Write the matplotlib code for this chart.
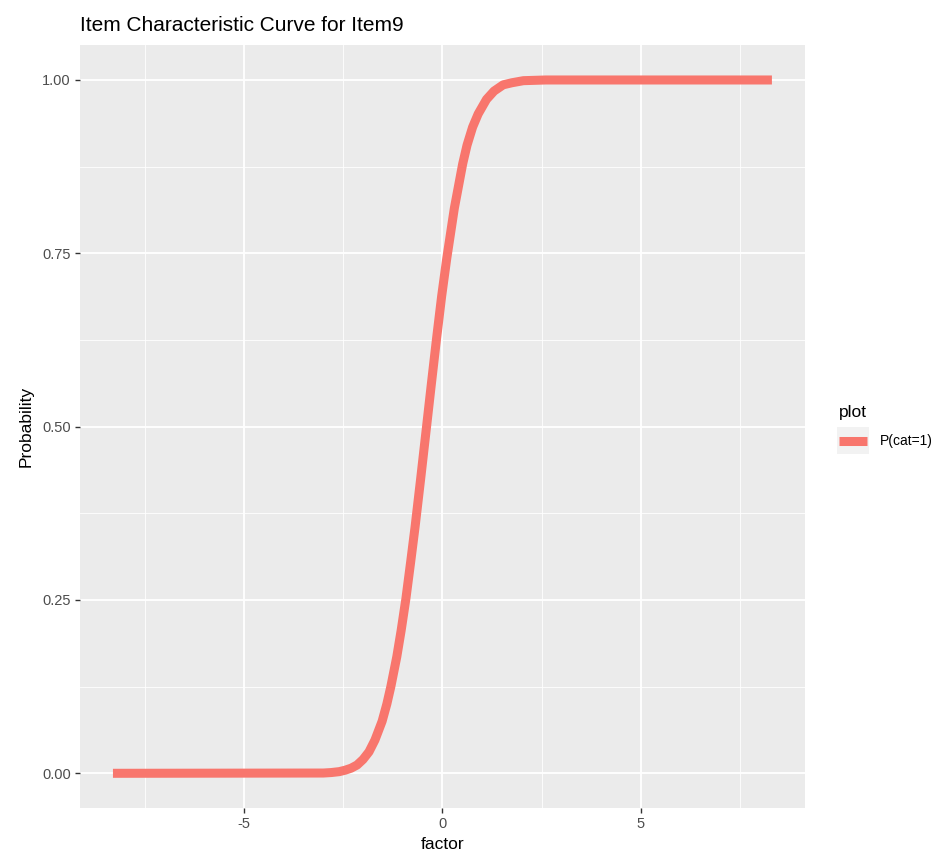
import matplotlib.pyplot as plt
from matplotlib.patches import Rectangle

# points
factor = [-8.3, -3.0, -2.8, -2.6, -2.45, -2.3, -2.15, -2.0, -1.85, -1.7, -1.52,
          -1.4, -1.3, -1.15, -1.04, -0.92, -0.8, -0.69, -0.55, -0.40, -0.28,
          -0.15, -0.02, 0.11, 0.30, 0.51, 0.62, 0.76, 0.9, 1.11, 1.3, 1.53,
          1.75, 2.04, 2.6, 8.3]
prob = [0.0, 0.0004, 0.0011, 0.0024, 0.0045, 0.0074, 0.012, 0.020, 0.031, 0.048,
        0.075, 0.100, 0.125, 0.168, 0.206, 0.252, 0.305, 0.355, 0.424, 0.5,
        0.561, 0.626, 0.688, 0.743, 0.815, 0.879, 0.906, 0.932, 0.951, 0.972,
        0.984, 0.993, 0.996, 0.999, 1.0, 1.0]
series_name = "P(cat=1)"
x_ticks = [-5, 0, 5]
y_ticks = [0.0, 0.25, 0.5, 0.75, 1.0]
y_ticklabels = ["0.00", "0.25", "0.50", "0.75", "1.00"]

plt.rcParams['font.family'] = ['Liberation Sans', 'DejaVu Sans']

fig = plt.figure(figsize=(9.48, 8.55), dpi=100)
ax = fig.add_axes([0.0844, 0.055, 0.849 - 0.0844, 0.947 - 0.055])
ax.set_facecolor('#EBEBEB')
for s in ax.spines.values():
    s.set_visible(False)

ax.plot(factor, prob, color='#F8766D', lw=6.5, solid_capstyle='butt',
        solid_joinstyle='round', label=series_name, zorder=3)

xr = max(factor) - min(factor)
ax.set_xlim(min(factor) - 0.05 * xr, max(factor) + 0.05 * xr)
ax.set_ylim(-0.05, 1.05)

ax.set_xticks(x_ticks)
ax.set_xticklabels([str(t) for t in x_ticks])
ax.set_yticks(y_ticks)
ax.set_yticklabels(y_ticklabels)
ax.set_xticks([-7.5, -2.5, 2.5, 7.5], minor=True)
ax.set_yticks([0.125, 0.375, 0.625, 0.875], minor=True)
ax.grid(which='major', color='white', lw=1.3, zorder=0)
ax.grid(which='minor', color='white', lw=0.6, zorder=0)
ax.set_axisbelow(True)
ax.tick_params(which='major', length=3.5, width=1, color='#333333',
               labelcolor='#4D4D4D', labelsize=10.5, pad=3)
ax.tick_params(which='minor', length=0)

ax.set_xlabel('factor', fontsize=12.5, color='black', labelpad=4)
ax.set_ylabel('Probability', fontsize=12.5, color='black', labelpad=6)
ax.set_title('Item Characteristic Curve for Item9', fontsize=15, loc='left', pad=10)

leg = ax.legend(loc='center left', bbox_to_anchor=(1.03, 0.5), frameon=False,
                title='plot', handlelength=2.0, handletextpad=0.9, fontsize=10,
                title_fontsize=12.5, alignment='left', borderaxespad=0.5,
                labelspacing=1.05)
leg._legend_box.align = 'left'

# grey key background like ggplot
fig.canvas.draw()
h = leg.legend_handles[0]
bb = h.get_window_extent()
inv = fig.transFigure.inverted()
(x0, y0), (x1, y1) = inv.transform([[bb.x0, bb.y0], [bb.x1, bb.y1]])
cx, cy = (x0 + x1) / 2, (y0 + y1) / 2
w, hh = 32 / 948, 27 / 855
fig.patches.append(Rectangle((cx - w / 2, cy - hh / 2), w, hh,
                             transform=fig.transFigure, facecolor='#F2F2F2',
                             edgecolor='none', zorder=-1))

fig.savefig('out.png', dpi=100)
